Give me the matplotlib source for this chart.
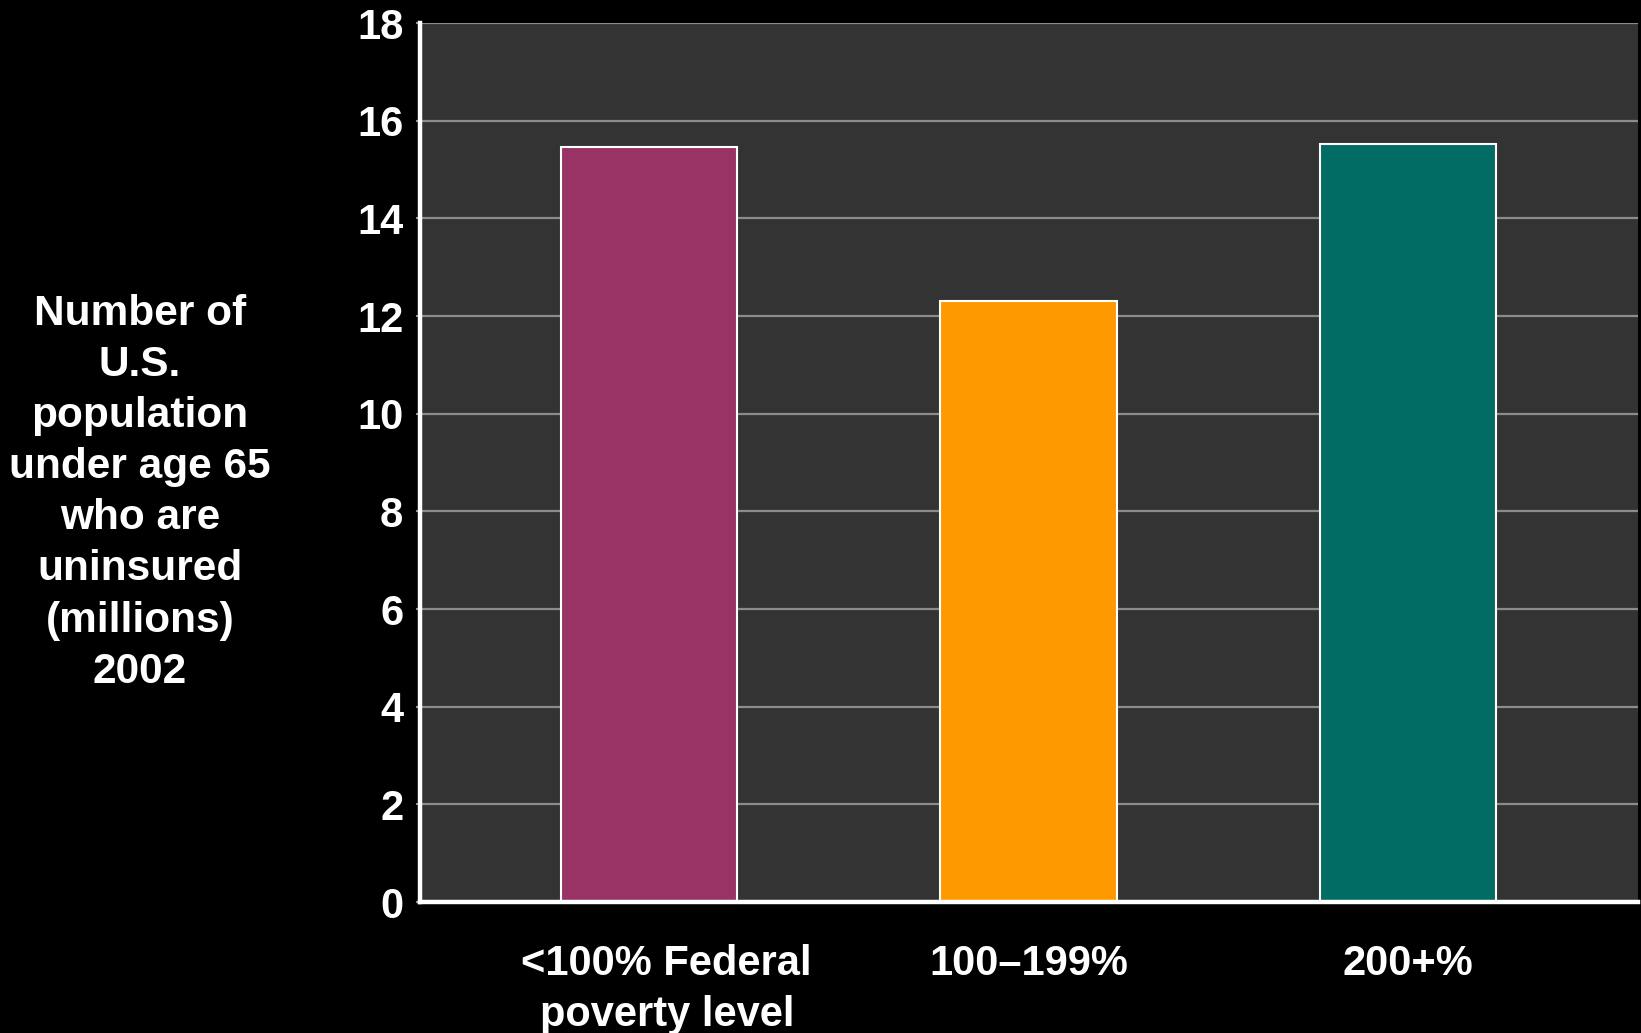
import matplotlib.pyplot as plt
import matplotlib.transforms as mtransforms
import numpy as np

# Dados do gráfico (milhões de não segurados, 2002)
categorias = ['<100% Federal\npoverty level', '100\u2013199%', '200+%']
valores = [15.47, 12.3, 15.53]
cores = ['#993366', '#FF9900', '#006C64']
ticks_y = [0, 2, 4, 6, 8, 10, 12, 14, 16, 18]

plt.rcParams['font.family'] = ['Liberation Sans', 'DejaVu Sans']
plt.rcParams['font.weight'] = 'bold'

fig = plt.figure(figsize=(16.41, 10.33), dpi=100, facecolor='black')
ax = fig.add_axes([0.2559, 0.1268, 0.742, 0.8509])
ax.set_facecolor('#333333')

x = np.arange(len(categorias))
ax.bar(x, valores, width=0.465, color=cores, edgecolor='white', linewidth=1.5, zorder=3)

ax.set_xlim(-0.603, 2.605)
ax.set_ylim(0, 18)
ax.set_yticks(ticks_y)
ax.grid(axis='y', color='#8c8c8c', linewidth=1.6, zorder=1)

ax.set_xticks(x)
ax.set_xticklabels(categorias, fontsize=30, fontweight='bold', color='white', linespacing=1.38)
ax.tick_params(axis='x', length=0, pad=30)
ax.tick_params(axis='y', length=3, width=1.5, color='#8c8c8c', labelsize=30,
               labelcolor='white', pad=9)
for lbl in ax.get_yticklabels():
    lbl.set_fontweight('bold')

# o primeiro rótulo fica um pouco deslocado para a direita no original
desloc = mtransforms.ScaledTranslation(18 / 100, 0, fig.dpi_scale_trans)
primeiro = ax.get_xticklabels()[0]
primeiro.set_transform(primeiro.get_transform() + desloc)

for lado in ['top', 'right']:
    ax.spines[lado].set_visible(False)
ax.spines['left'].set_color('white')
ax.spines['left'].set_linewidth(3.2)
ax.spines['bottom'].set_color('white')
ax.spines['bottom'].set_linewidth(3.2)
ax.spines['left'].set_zorder(4)
ax.spines['bottom'].set_zorder(4)

fig.text(0.0853, 0.523, 'Number of\nU.S.\npopulation\nunder age 65\nwho are\nuninsured\n(millions)\n2002',
         ha='center', va='center', fontsize=30.5, fontweight='bold', color='white', linespacing=1.36)

plt.savefig('out.png', dpi=100, facecolor='black')
